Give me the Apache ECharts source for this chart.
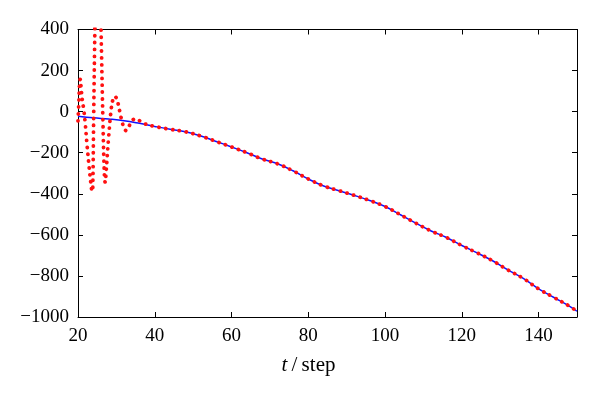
<!DOCTYPE html>
<html>
<head>
<meta charset="utf-8">
<script src="https://cdn.jsdelivr.net/npm/echarts@6/dist/echarts.min.js"></script>
<style>
  html, body { margin: 0; padding: 0; background: #fff; }
  #chart { width: 600px; height: 396px; }
</style>
</head>
<body>
<div id="chart"></div>
<script>
// Axis ticks
var xTicks = [20, 40, 60, 80, 100, 120, 140];
var yTicks = [-1000, -800, -600, -400, -200, 0, 200, 400];

// Blue solid curve: time steps and values
var blueT = [20, 24, 28, 32, 36, 40, 44, 48, 52, 56, 60, 64, 68, 72, 76, 80, 84, 88, 92, 96,
             100, 104, 108, 112, 116, 120, 124, 128, 132, 136, 140, 144, 148, 150];
var blueV = [-22, -30, -36, -44, -57, -72, -86, -98, -119, -145, -172, -200, -231, -254, -288, -328, -362, -385, -408, -433,
             -462, -502, -543, -581, -613, -652, -688, -726, -771, -812, -863, -905, -947, -972];

// Red dotted curve: early oscillating part (before it merges with the blue curve)
var redEarlyT = [20.0, 20.2, 20.45, 20.6, 20.8, 21.1, 21.5, 21.9, 22.3, 22.8, 23.3, 23.7, 23.85, 24.1, 24.4, 24.7, 25.2, 25.6, 26.0, 26.5,
                 26.9, 27.1, 27.3, 28.0, 28.7, 29.2, 29.6, 30.0, 30.5, 31.0, 31.5, 32.0, 32.5, 33.0, 33.6, 34.3, 35.0, 35.7, 36.5, 37.5];
var redEarlyV = [-45, 40, 150, 158, 120, 60, 10, -60, -150, -250, -340, -388, -370, 0, 400, 700, 820, 700, 400, -50,
                 -320, -345, -300, -120, 20, 65, 75, 65, 35, -10, -50, -80, -92, -82, -60, -40, -34, -40, -50, -60];

var blueData = blueT.map(function (t, i) { return [t, blueV[i]]; });
var redData = redEarlyT.map(function (t, i) { return [t, redEarlyV[i]]; });
blueT.forEach(function (t, i) { if (t >= 40) redData.push([t, blueV[i]]); });

var fontFam = '"Liberation Serif", "Times New Roman", serif';
var chart = echarts.init(document.getElementById('chart'));

function baseX(pos, show) {
  return {
    type: 'value', position: pos, min: 20, max: 150, interval: 20,
    axisLine: { show: true, onZero: false, lineStyle: { color: '#000', width: 1 } },
    axisTick: { show: true, inside: true, length: 5, lineStyle: { color: '#000' } },
    axisLabel: { show: show, color: '#000', fontFamily: fontFam, fontSize: 19, margin: 10,
      customValues: xTicks },
    splitLine: { show: false }
  };
}
function baseY(pos, show) {
  return {
    type: 'value', position: pos, min: -1000, max: 400, interval: 200,
    axisLine: { show: true, onZero: false, lineStyle: { color: '#000', width: 1 } },
    axisTick: { show: true, inside: true, length: 5, lineStyle: { color: '#000' } },
    axisLabel: { show: show, color: '#000', fontFamily: fontFam, fontSize: 19, margin: 9,
      formatter: function (v) { return v < 0 ? '\u2212' + Math.abs(v) : String(v); } },
    splitLine: { show: false }
  };
}

var xMain = baseX('bottom', true);
xMain.name = '{i|t}\u2009/\u2009step';
xMain.nameLocation = 'middle';
xMain.nameGap = 38;
xMain.nameTextStyle = {
  color: '#000', fontFamily: fontFam, fontSize: 21, padding: [0, 38, 0, 0],
  rich: { i: { fontStyle: 'italic', fontFamily: fontFam, fontSize: 21, color: '#000' } }
};
var xTop = baseX('top', false);
delete xTop.axisLabel.customValues;

chart.setOption({
  animation: false,
  backgroundColor: '#fff',
  grid: { left: 78, right: 23, top: 29.5, bottom: 79, containLabel: false },
  xAxis: [xMain, xTop],
  yAxis: [baseY('left', true), baseY('right', false)],
  series: [
    {
      type: 'line', xAxisIndex: 0, yAxisIndex: 0, data: blueData,
      smooth: 0.4, showSymbol: false, clip: true,
      lineStyle: { color: '#1010ff', width: 1.5 }, z: 2
    },
    {
      type: 'line', xAxisIndex: 0, yAxisIndex: 0, data: redData,
      smooth: 0.4, showSymbol: false, clip: true,
      lineStyle: { color: '#ff1010', width: 3.8, type: [0.1, 6.8], cap: 'round' }, z: 3
    }
  ]
});
</script>
</body>
</html>
